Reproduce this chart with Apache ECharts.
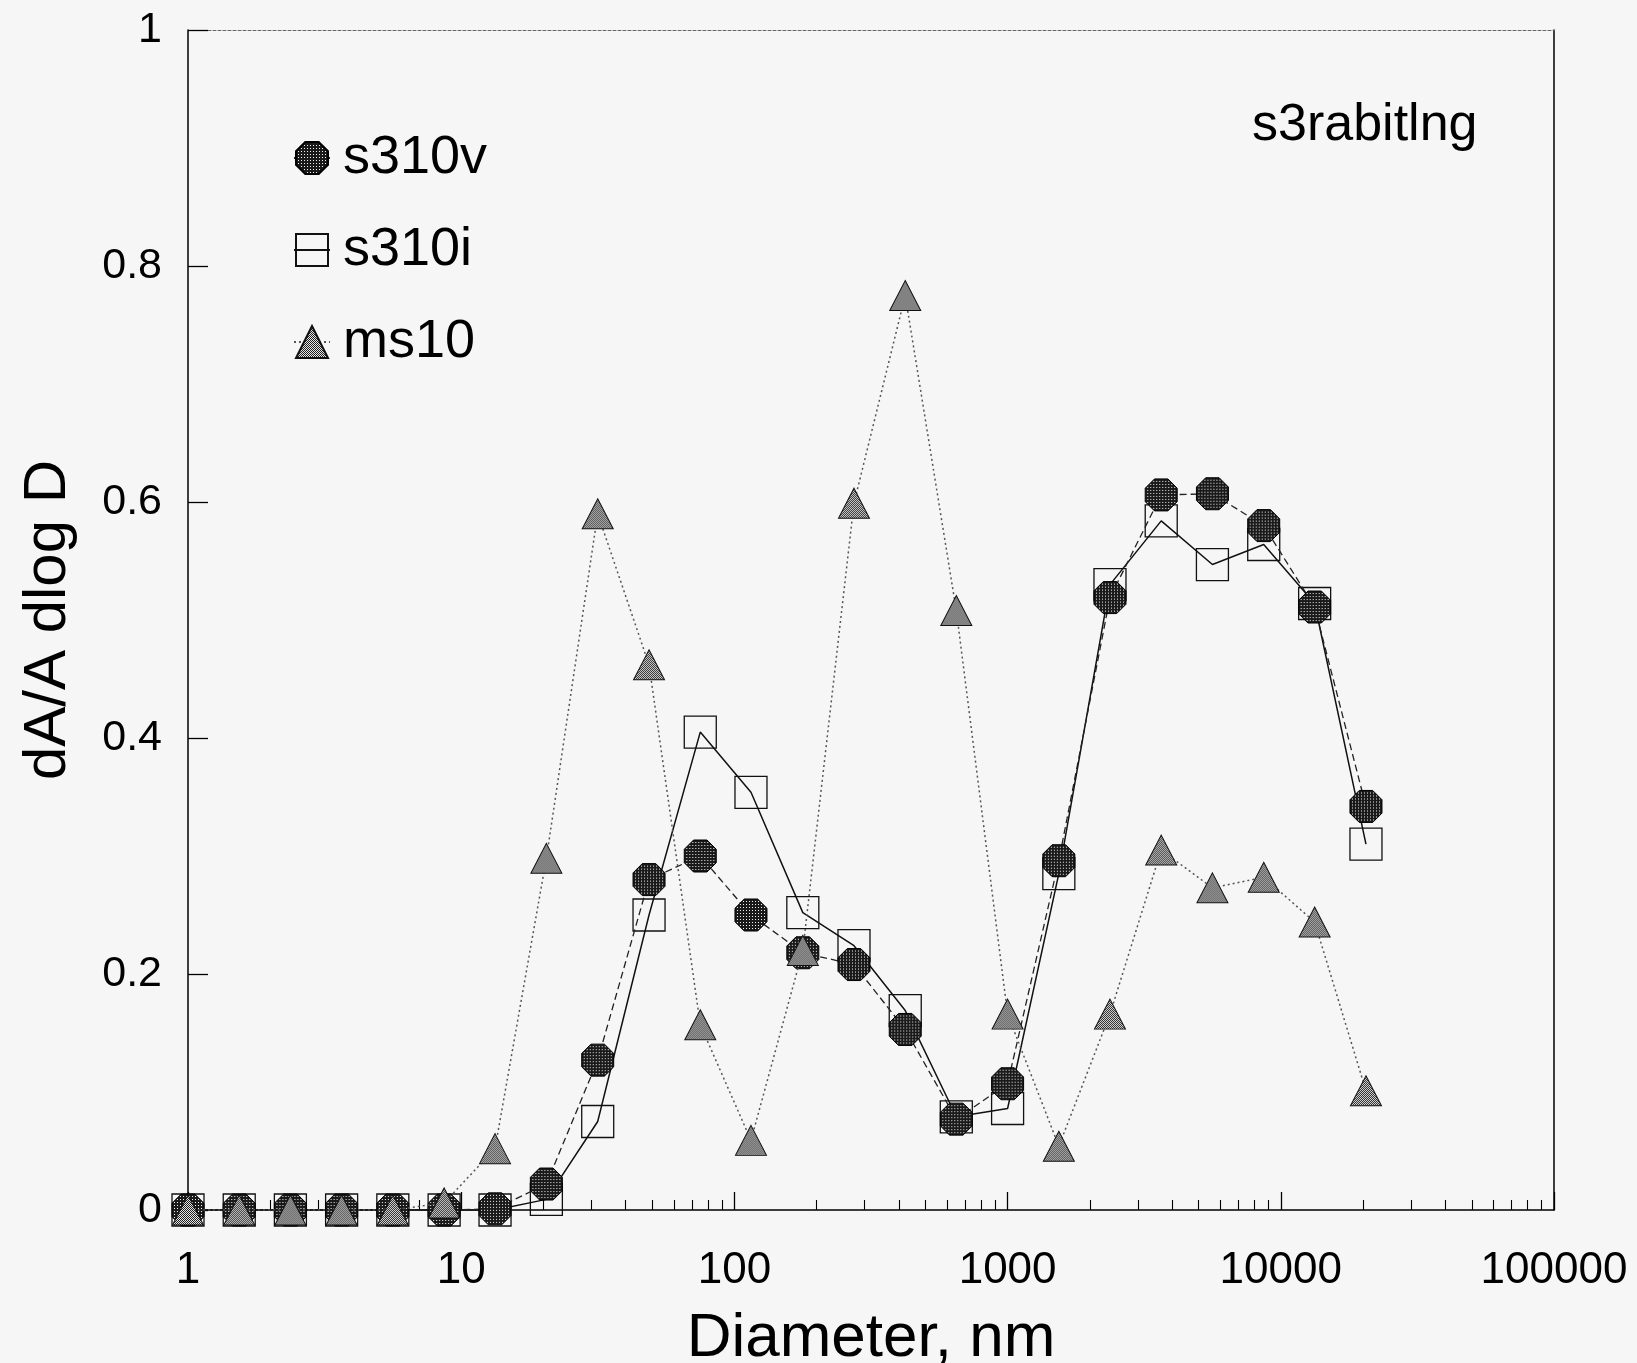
<!DOCTYPE html>
<html>
<head>
<meta charset="utf-8">
<script src="https://cdn.jsdelivr.net/npm/echarts@6/dist/echarts.min.js"></script>
<style>
  html, body { margin: 0; padding: 0; background: #f6f6f6; }
  #chart { width: 1637px; height: 1363px; }
</style>
</head>
<body>
<div id="chart"></div>
<script>
// Particle diameter bins (nm)
const diameters = [1, 1.54, 2.37, 3.65, 5.62, 8.66, 13.3, 20.5, 31.6, 48.7, 75.0, 115,
                   178, 274, 422, 649, 1000, 1540, 2370, 3650, 5620, 8660, 13300, 20500];

// dA/A dlog D for each sample
const s310v = [0, 0, 0, 0, 0, 0, 0.001, 0.022, 0.127, 0.280, 0.300, 0.250,
               0.218, 0.208, 0.153, 0.077, 0.107, 0.296, 0.519, 0.606, 0.607, 0.580, 0.511, 0.342];
const s310i = [0, 0, 0, 0, 0, 0, 0, 0.009, 0.075, 0.250, 0.405, 0.354,
               0.252, 0.224, 0.169, 0.079, 0.086, 0.285, 0.530, 0.584, 0.547, 0.564, 0.514, 0.310];
const ms10  = [0, 0, 0, 0, 0, 0.006, 0.052, 0.298, 0.590, 0.462, 0.157, 0.059,
               0.220, 0.599, 0.775, 0.508, 0.166, 0.054, 0.166, 0.305, 0.273, 0.282, 0.244, 0.101];

// Axis ticks
const xTicks = [1, 10, 100, 1000, 10000, 100000];
const xMinorSteps = [2, 3, 4, 5, 6, 7, 8, 9];
const yTicks = [0, 0.2, 0.4, 0.6, 0.8, 1];

const FONT = "'Liberation Sans', Arial, Helvetica, sans-serif";

const xMinorTicks = [];
xTicks.slice(0, -1).forEach(d => xMinorSteps.forEach(m => xMinorTicks.push(d * m)));

// Halftone fills for the symbols
function makeTile(size, paint) {
  const c = document.createElement('canvas');
  c.width = c.height = size;
  paint(c.getContext('2d'));
  return c;
}
const dotTile = makeTile(3, g => {
  g.fillStyle = '#1a1a1a'; g.fillRect(0, 0, 3, 3);
  g.fillStyle = '#f2f2f2'; g.fillRect(1, 1, 1, 1);
});
const checkTile = makeTile(2, g => {
  g.fillStyle = '#e6e6e6'; g.fillRect(0, 0, 2, 2);
  g.fillStyle = '#1e1e1e'; g.fillRect(0, 0, 1, 1); g.fillRect(1, 1, 1, 1);
});
function pattern(tile, sx, sy) {
  return { image: tile, repeat: 'repeat', scaleX: sx, scaleY: sy === undefined ? sx : sy };
}

const OCTAGON = 'path://M29,0 L71,0 L100,29 L100,71 L71,100 L29,100 L0,71 L0,29 Z';
const OCT_SIZE = 32, SQ_SIZE = 32, TRI_SIZE = [31, 30];

const pairs = ys => diameters.map((d, i) => [d, ys[i]]);

const chart = echarts.init(document.getElementById('chart'), null, { renderer: 'canvas' });

chart.setOption({
  backgroundColor: '#f6f6f6',
  animation: false,
  grid: { left: 188, right: 83, top: 30, bottom: 153, containLabel: false, outerBoundsMode: 'none' },
  legend: {
    orient: 'vertical',
    left: 293,
    top: 131,
    padding: 0,
    itemWidth: 36,
    itemHeight: 40,
    itemGap: 38,
    selectedMode: false,
    textStyle: { fontSize: 54, fontFamily: FONT, color: '#000', lineHeight: 54, padding: [0, 0, 0, 8] },
    data: [
      { name: 's310v', itemStyle: { color: pattern(dotTile, 1) } },
      { name: 's310i' },
      { name: 'ms10', itemStyle: { color: pattern(checkTile, 1) } }
    ]
  },
  graphic: [
    {
      type: 'text', left: 1252, top: 100,
      style: { text: 's3rabitlng', font: '52px ' + FONT, fill: '#000' }
    }
  ],
  xAxis: [
    {
      type: 'log', logBase: 10, min: 1, max: 100000, position: 'bottom',
      axisLine: { show: true, lineStyle: { color: '#000', width: 1.5 } },
      axisTick: { show: true, inside: true, length: 18, lineStyle: { color: '#000', width: 1.3 } },
      minorTick: { show: false },
      splitLine: { show: false },
      axisLabel: {
        fontSize: 44, fontFamily: FONT, color: '#000', margin: 39,
        formatter: v => String(Math.round(v))
      },
      name: 'Diameter, nm', nameLocation: 'middle', nameGap: 98,
      nameTextStyle: { fontSize: 62, fontFamily: FONT, color: '#000' }
    },
    {
      type: 'log', logBase: 10, min: 1, max: 100000, position: 'bottom',
      axisLine: { show: false },
      axisTick: { show: true, inside: true, length: 10, customValues: xMinorTicks,
                  lineStyle: { color: '#000', width: 1.1 } },
      axisLabel: { show: false },
      splitLine: { show: false }
    },
    {
      type: 'log', logBase: 10, min: 1, max: 100000, position: 'top',
      axisLine: { show: true, lineStyle: { color: '#666', width: 1, type: [3, 2] } },
      axisTick: { show: false },
      axisLabel: { show: false },
      splitLine: { show: false }
    }
  ],
  yAxis: [
    {
      type: 'value', min: 0, max: 1, interval: 0.2, position: 'left',
      axisLine: { show: true, lineStyle: { color: '#000', width: 1.5 } },
      axisTick: { show: true, inside: true, length: 20, lineStyle: { color: '#000', width: 1.3 } },
      splitLine: { show: false },
      axisLabel: {
        fontSize: 43, fontFamily: FONT, color: '#000', margin: 26,
        formatter: v => (yTicks.includes(v) && (v === 0 || v === 1)) ? String(v) : v.toFixed(1)
      },
      name: 'dA/A dlog D', nameLocation: 'middle', nameGap: 110,
      nameTextStyle: { fontSize: 60, fontFamily: FONT, color: '#000' }
    },
    {
      type: 'value', min: 0, max: 1, position: 'right',
      axisLine: { show: true, lineStyle: { color: '#000', width: 1.5 } },
      axisTick: { show: false },
      axisLabel: { show: false },
      splitLine: { show: false }
    }
  ],
  series: [
    {
      name: 's310i', type: 'line', data: pairs(s310i), z: 2,
      symbol: 'rect', symbolSize: SQ_SIZE,
      itemStyle: { color: 'rgba(0,0,0,0)', borderColor: '#111', borderWidth: 1.3 },
      lineStyle: { color: '#111', width: 1.5, type: 'solid' },
      emphasis: { disabled: true }
    },
    {
      name: 's310v', type: 'line', data: pairs(s310v), z: 3,
      symbol: OCTAGON, symbolSize: OCT_SIZE,
      itemStyle: { color: pattern(dotTile, 2 / OCT_SIZE), borderColor: '#000', borderWidth: 1 },
      lineStyle: { color: '#222', width: 1.3, type: [7, 4] },
      emphasis: { disabled: true }
    },
    {
      name: 'ms10', type: 'line', data: pairs(ms10), z: 4,
      symbol: 'triangle', symbolSize: TRI_SIZE,
      itemStyle: { color: pattern(checkTile, 2 / TRI_SIZE[0], 2 / TRI_SIZE[1]), borderColor: '#111', borderWidth: 1 },
      lineStyle: { color: '#555', width: 1.5, type: [2, 3] },
      emphasis: { disabled: true }
    }
  ]
});
</script>
</body>
</html>
